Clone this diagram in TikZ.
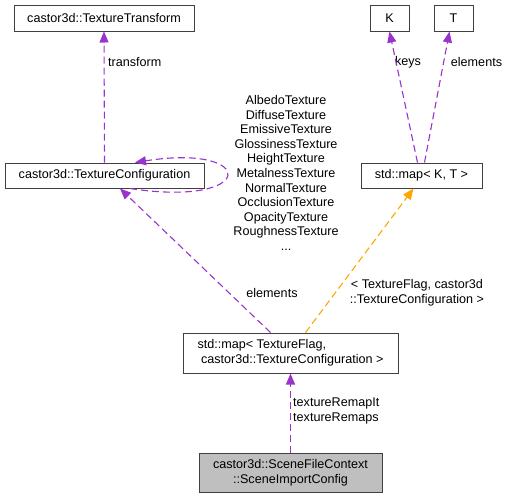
\documentclass[tikz,border=0pt]{standalone}
\usepackage{fontspec}
\setmainfont{Liberation Sans}
\usetikzlibrary{arrows.meta}
\definecolor{edgepurple}{HTML}{9A32CD}
\definecolor{edgeorange}{HTML}{FFA500}
\definecolor{boxgray}{HTML}{404040}
\definecolor{boxfill}{HTML}{BFBFBF}
\begin{document}
\begin{tikzpicture}[x=1pt,y=-1pt,
        font=\fontsize{12.6}{14.6}\selectfont,
        classbox/.style={draw=boxgray,line width=1pt,inner sep=0pt,fill=white},
        uses/.style={draw=edgepurple,line width=1.1pt,dash pattern=on 7pt off 4pt,
                     -{Triangle[length=11pt,width=9pt]}},
        templ/.style={draw=edgeorange,line width=1.1pt,dash pattern=on 7pt off 4pt,
                      -{Triangle[length=11pt,width=9pt,fill=edgeorange]}},
        lbl/.style={inner sep=0pt}]
                \useasboundingbox (0,0) rectangle (509,499);
                \node [classbox,minimum width=180pt,minimum height=26pt] (transform) at (104,18) {castor3d::TextureTransform};
                \node [classbox,minimum width=199pt,minimum height=25pt] (config) at (104.5,175.5) {castor3d::TextureConfiguration};
                \node [classbox,minimum width=39pt,minimum height=26pt] (keyK) at (389.5,18) {K};
                \node [classbox,minimum width=39pt,minimum height=26pt] (valT) at (453.5,18) {T};
                \node [classbox,minimum width=121pt,minimum height=25pt] (mapKT) at (421.5,175.5) {std::map< K, T >};
                \node [classbox,minimum width=215pt,minimum height=40pt,align=left] (mapflag) at (290.5,353) {std::map< TextureFlag,\\\ castor3d::TextureConfiguration >};
                \node [classbox,fill=boxfill,minimum width=183pt,minimum height=39pt,align=center] (sceneimport) at (290.5,472.5) {castor3d::SceneFileContext\\::SceneImportConfig};
                \node [lbl,anchor=west] (ltransform) at (108,62) {transform};
                \node [lbl,align=center] (ltextures) at (286,173) {AlbedoTexture\\DiffuseTexture\\EmissiveTexture\\GlossinessTexture\\HeightTexture\\MetalnessTexture\\NormalTexture\\OcclusionTexture\\OpacityTexture\\RoughnessTexture\\...};
                \node [lbl] (lelements) at (272,293) {elements};
                \node [lbl,align=center] (ltempl) at (417,293) {< TextureFlag, castor3d\\::TextureConfiguration >};
                \node [lbl,anchor=west,align=left] (lremaps) at (293,411) {textureRemapIt\\textureRemaps};
                \node [lbl] (lkeys) at (408,62) {keys};
                \node [lbl] (lvalues) at (476.5,62) {elements};
                \draw [uses] (config.north) to (transform.south);
                \draw [uses] ([xshift=25.5pt]config.south) .. controls (258,208) and (258,143) .. ([xshift=30.5pt]config.north);
                \draw [uses] ([xshift=-20pt]mapflag.north) to ([xshift=15.5pt]config.south);
                \draw [templ] ([xshift=15pt]mapflag.north) to ([xshift=-8pt]mapKT.south);
                \draw [uses] ([xshift=-4pt]mapKT.north) to (keyK.south);
                \draw [uses] ([xshift=3pt]mapKT.north) to ([xshift=-4pt]valT.south);
                \draw [uses] (sceneimport.north) to (mapflag.south);
            \end{tikzpicture}
\end{document}
